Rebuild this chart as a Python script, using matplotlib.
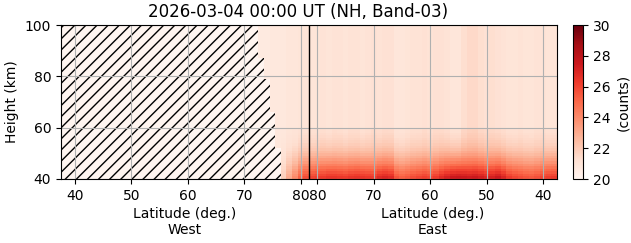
import numpy as np
import matplotlib
matplotlib.use('Agg')
import matplotlib.pyplot as plt

# height bins (km), 1 km
height_edges = np.arange(40, 101, 1)

# shape of the bright bottom layer, fraction of (bottom - base), 40..60 km
layer_shape = [1.0, 0.93, 0.85, 0.77, 0.69, 0.6, 0.52, 0.45, 0.38, 0.32,
               0.27, 0.22, 0.18, 0.15, 0.12, 0.1, 0.08, 0.065, 0.05, 0.04]

# west side: latitude columns 72.5 .. 81.5
west_lat_edges = np.arange(72.5, 82.0, 1.0)
west_base = [20.7, 20.7, 20.8, 20.8, 20.8, 20.9, 20.9, 21.0, 21.0]
west_bottom = [20.8, 20.9, 21.0, 21.3, 21.8, 23.0, 24.0, 25.2, 25.8]

# east side: latitude columns 81.5 .. 37.5 (descending)
east_lat_edges = np.arange(81.5, 37.0, -1.0)
east_base = [21.0, 21.0, 21.1, 21.0, 21.1, 21.1, 21.0, 21.1, 21.1, 21.0,
             21.1, 21.2, 21.1, 21.2, 21.2, 20.9, 20.9, 21.0, 21.1, 21.1,
             21.2, 21.1, 21.2, 21.2, 21.1, 20.9, 20.9, 21.3, 21.5, 21.5,
             21.3, 21.2, 21.3, 21.2, 21.1, 21.0, 21.0, 21.1, 21.0, 21.0,
             21.1, 21.1, 21.0, 21.0]
east_bottom = [26.0, 26.2, 26.3, 26.5, 26.5, 26.4, 26.3, 26.5, 26.6, 26.5,
               26.4, 26.3, 26.8, 27.0, 26.8, 25.6, 25.3, 25.5, 25.8, 26.0,
               26.2, 26.0, 26.3, 26.8, 27.2, 27.5, 27.6, 27.5, 27.4, 27.5,
               27.3, 27.0, 27.2, 27.5, 27.0, 26.3, 26.0, 25.8, 25.6, 25.5,
               25.7, 26.0, 26.2, 26.3]

# edge of the no-data (hatched) area on the west side
hatch_heights = [40, 52, 66, 79, 87, 100]
hatch_lats = [76.5, 75.5, 74.5, 73.5, 72.5, 72.5]

tick_lats = [40, 50, 60, 70, 80]
split_lat = 81.5

shape = np.concatenate([layer_shape, np.full(len(height_edges) - 1 - len(layer_shape), 0.0)])


def build(base, bottom):
    base = np.asarray(base)
    bottom = np.asarray(bottom)
    return base[None, :] + (bottom - base)[None, :] * shape[:, None]


west = build(west_base, west_bottom)
east = build(east_base, east_bottom)

# mask west cells under the hatched area
h_cent = height_edges[:-1] + 0.5
w_cent = west_lat_edges[:-1] + 0.5
idx = np.searchsorted(hatch_heights, h_cent, side='right') - 1
edge = np.array(hatch_lats)[idx]
west = np.ma.masked_where(w_cent[None, :] < edge[:, None], west)


def east_x(lat):
    return 2 * split_lat - np.asarray(lat)


cmap = plt.cm.Reds
fig = plt.figure(figsize=(6.31, 2.43), dpi=100)
ax = fig.add_axes([61 / 631, 1 - 179 / 243, 496 / 631, 154 / 243])
cax = fig.add_axes([573 / 631, 1 - 179 / 243, 10 / 631, 154 / 243])
ax.set_facecolor(cmap(0.0))

pc = ax.pcolormesh(west_lat_edges, height_edges, west, cmap=cmap, vmin=20, vmax=30)
ax.pcolormesh(east_x(east_lat_edges), height_edges, east, cmap=cmap, vmin=20, vmax=30)

plt.rcParams['hatch.linewidth'] = 1.0
ax.fill_betweenx(hatch_heights, 37.5, hatch_lats, step='post', facecolor='none',
                 edgecolor='black', hatch='///', linewidth=0)

ax.axvline(split_lat, color='black', linewidth=1)

ax.set_xlim(37.5, east_x(37.5))
ax.set_ylim(40, 100)
ax.set_yticks([40, 60, 80, 100])
ax.set_xticks(list(tick_lats) + list(east_x(tick_lats)))
ax.set_xticklabels([str(t) for t in tick_lats] + [str(t) for t in tick_lats])
ax.grid(True)
ax.set_ylabel('Height (km)')

tr = ax.get_xaxis_transform()
ax.text((37.5 + split_lat) / 2, -0.18, 'Latitude (deg.)\nWest', ha='center', va='top',
        transform=tr, fontsize=10)
ax.text(east_x((37.5 + split_lat) / 2), -0.18, 'Latitude (deg.)\nEast', ha='center', va='top',
        transform=tr, fontsize=10)
ax.set_title('2026-03-04 00:00 UT (NH, Band-03)', fontsize=12, x=0.478)

cb = fig.colorbar(pc, cax=cax)
cb.set_ticks([20, 22, 24, 26, 28, 30])
cb.set_label('(counts)')

fig.savefig('out.png', dpi=100)
